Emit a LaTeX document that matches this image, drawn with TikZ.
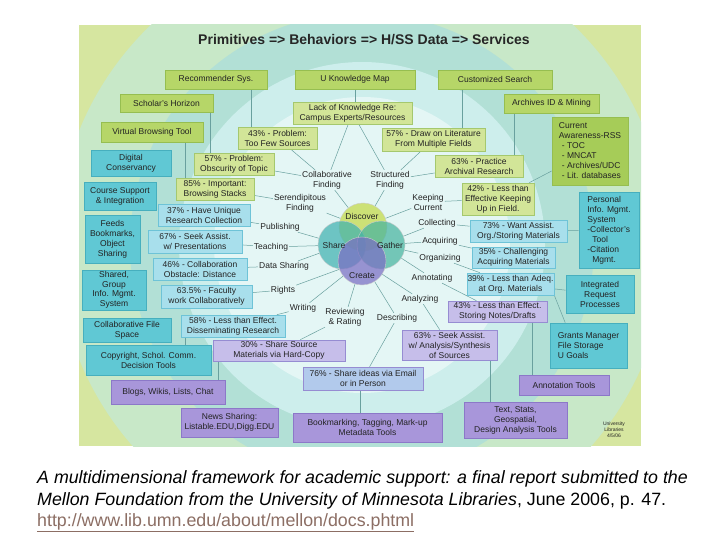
\documentclass[tikz,border=0pt]{standalone}
\usepackage{fontspec}
\setmainfont{Liberation Sans}
\usetikzlibrary{calc}
\definecolor{bgyel}{RGB}{214,230,160}
\definecolor{ringA}{RGB}{200,232,200}
\definecolor{ringB}{RGB}{178,224,214}
\definecolor{ringC}{RGB}{205,238,236}
\definecolor{ringD}{RGB}{228,246,245}
\definecolor{gsF}{RGB}{182,214,104}
\definecolor{gsD}{RGB}{150,190,80}
\definecolor{gpF}{RGB}{210,229,152}
\definecolor{gpD}{RGB}{165,200,110}
\definecolor{curF}{RGB}{166,204,88}
\definecolor{csF}{RGB}{96,200,212}
\definecolor{csD}{RGB}{70,175,190}
\definecolor{cpF}{RGB}{168,223,236}
\definecolor{cpD}{RGB}{110,195,215}
\definecolor{psF}{RGB}{168,150,218}
\definecolor{psD}{RGB}{140,120,200}
\definecolor{ppF}{RGB}{198,190,234}
\definecolor{ppD}{RGB}{150,140,210}
\definecolor{blF}{RGB}{178,202,236}
\definecolor{txt}{RGB}{35,35,35}
\definecolor{connC}{RGB}{105,160,158}
\definecolor{discC}{RGB}{196,218,70}
\definecolor{shareC}{RGB}{64,178,176}
\definecolor{gathC}{RGB}{72,180,160}
\definecolor{creC}{RGB}{122,110,196}
\definecolor{urlC}{RGB}{140,110,100}
\pgfdeclarelayer{bg}
\pgfdeclarelayer{lines}
\pgfsetlayers{bg,lines,main}
\tikzset{
  bx/.style={draw, line width=0.6pt, inner sep=0.5pt, align=center,
    font=\fontsize{8.5}{10}\selectfont, text=txt},
  gs/.style={bx, fill=gsF, draw=gsD},
  gp/.style={bx, fill=gpF, draw=gpD},
  cs/.style={bx, fill=csF, draw=csD},
  cp/.style={bx, fill=cpF, draw=cpD},
  ps/.style={bx, fill=psF, draw=psD},
  pp/.style={bx, fill=ppF, draw=ppD},
  lbl/.style={align=center, inner sep=1pt, font=\fontsize{8.5}{10}\selectfont, text=txt},
  conn/.style={draw=connC, line width=0.5pt},
  venn/.style={circle, minimum size=48pt, inner sep=0pt, fill opacity=0.72,
    draw=white!60!gray, line width=0.4pt},
  wh/.style={minimum width=#1},
  ht/.style={minimum height=#1}
}
\begin{document}
\begin{tikzpicture}[x=1pt,y=-1pt]
\useasboundingbox (0,0) rectangle (720,540);
\begin{pgfonlayer}{bg}
  \fill[white] (0,0) rectangle (720,540);
  \fill[bgyel] (79,25) rectangle (641,446);
  \begin{scope}
    \clip (79,25) rectangle (641,446);
    \fill[ringA] (362,245) circle (305);
    \fill[ringB] (362,245) circle (232);
    \fill[ringC] (362,245) circle (183);
    \fill[ringD] (362,245) circle (148);
  \end{scope}
\end{pgfonlayer}

% title
\node[font=\fontsize{14}{16}\selectfont\bfseries, text=black!85] (title) at (364,40)
  {Primitives => Behaviors => H/SS Data => Services};

% green service boxes
\node[gs, wh=102pt, ht=19pt] (rec) at (216,79.5) {Recommender Sys.};
\node[gs, wh=120pt, ht=19pt] (ukm) at (355,79.5) {U Knowledge Map};
\node[gs, wh=114pt, ht=19pt] (cus) at (495,79.5) {Customized Search};
\node[gs, wh=93pt, ht=18pt] (sch) at (166.5,103) {Scholar's Horizon};
\node[gs, wh=95pt, ht=19pt] (arc) at (551.5,103.5) {Archives ID \& Mining};
\node[gs, wh=102pt, ht=20pt] (vbt) at (152,132) {Virtual Browsing Tool};
\node[bx, fill=curF, draw=gsD, wh=76pt, ht=68pt, align=left] (cur) at (590,151)
  {Current\\Awareness-RSS\\\hspace*{3pt}- TOC\\\hspace*{3pt}- MNCAT\\\hspace*{3pt}- Archives/UDC\\\hspace*{3pt}- Lit. databases};

% green percentage boxes
\node[gp, wh=119pt, ht=22pt] (lack) at (352.5,113) {Lack of Knowledge Re:\\Campus Experts/Resources};
\node[gp, wh=79pt, ht=22pt] (p43) at (277.5,138) {43\% - Problem:\\Too Few Sources};
\node[gp, wh=103pt, ht=23pt] (p57d) at (433.5,139.5) {57\% - Draw on Literature\\From Multiple Fields};
\node[gp, wh=80pt, ht=22pt] (p57o) at (234,164) {57\% - Problem:\\Obscurity of Topic};
\node[gp, wh=88pt, ht=22pt] (p63) at (479,166) {63\% - Practice\\Archival Research};
\node[gp, wh=78pt, ht=22pt] (p85) at (215,189) {85\% - Important:\\Browsing Stacks};
\node[gp, wh=72pt, ht=32pt] (p42) at (498,199) {42\% - Less than\\Effective Keeping\\Up in Field.};

% cyan service boxes
\node[cs, wh=80pt, ht=26pt] (dig) at (131,163) {Digital\\Conservancy};
\node[cs, wh=72pt, ht=28pt] (cou) at (120,196) {Course Support\\\& Integration};
\node[cs, wh=55pt, ht=48pt] (fee) at (112.5,239) {Feeds\\Bookmarks,\\Object\\Sharing};
\node[cs, wh=64pt, ht=40pt, font=\fontsize{8.5}{9.5}\selectfont] (sha) at (114,290) {Shared,\\Group\\Info. Mgmt.\\System};
\node[cs, wh=88pt, ht=24pt] (cfs) at (127,330) {Collaborative File\\Space};
\node[cs, wh=125pt, ht=30pt] (cop) at (148.5,360) {Copyright, Schol. Comm.\\Decision Tools};
\node[cs, wh=60pt, ht=76pt, align=left] (pim) at (609,230)
  {Personal\\Info. Mgmt.\\System\\-Collector's\\\hspace*{5pt}Tool\\-Citation\\\hspace*{5pt}Mgmt.};
\node[cs, wh=68pt, ht=38pt] (irp) at (600,294) {Integrated\\Request\\Processes};
\node[cs, wh=77pt, ht=45pt, align=left] (gra) at (588.5,345.5) {Grants Manager\\File Storage\\U Goals};

% cyan percentage boxes
\node[cp, wh=92pt, ht=22pt] (p37) at (204,215) {37\% - Have Unique\\Research Collection};
\node[cp, wh=94pt, ht=23pt] (p67) at (195,241.5) {67\% - Seek Assist.\\w/ Presentations};
\node[cp, wh=94pt, ht=22pt] (p46) at (200,269) {46\% - Collaboration\\Obstacle: Distance};
\node[cp, wh=91pt, ht=23pt] (p635) at (206.5,296.5) {63.5\% - Faculty\\work Collaboratively};
\node[cp, wh=104pt, ht=22pt] (p58) at (233,326) {58\% - Less than Effect.\\Disseminating Research};
\node[cp, wh=97pt, ht=22pt] (p73) at (518.5,231) {73\% - Want Assist.\\Org./Storing Materials};
\node[cp, wh=83pt, ht=21pt] (p35) at (513.5,257.5) {35\% - Challenging\\Acquiring Materials};
\node[cp, wh=87pt, ht=22pt] (p39) at (510.5,284) {39\% - Less than Adeq.\\at Org. Materials};

% purple percentage boxes
\node[pp, wh=132pt, ht=21pt] (p30) at (279,350.5) {30\% - Share Source\\Materials via Hard-Copy};
\node[pp, wh=95pt, ht=30pt] (p63s) at (449.5,345) {63\% - Seek Assist.\\w/ Analysis/Synthesis\\of Sources};
\node[pp, wh=99pt, ht=21pt] (p43s) at (497.5,311.5) {43\% - Less than Effect.\\Storing Notes/Drafts};
\node[bx, fill=blF, draw=ppD, wh=120pt, ht=23pt] (p76) at (363,378.5) {76\% - Share ideas via Email\\or in Person};

% purple service boxes
\node[ps, wh=114pt, ht=24pt] (blo) at (168,392) {Blogs, Wikis, Lists, Chat};
\node[ps, wh=97pt, ht=29pt] (new) at (229.5,422.5) {News Sharing:\\Listable.EDU,Digg.EDU};
\node[ps, wh=149pt, ht=29pt] (boo) at (367.5,427.5) {Bookmarking, Tagging, Mark-up\\Metadata Tools};
\node[ps, wh=90pt, ht=20pt] (ann) at (564,385) {Annotation Tools};
\node[ps, wh=103pt, ht=36pt] (tex) at (515.5,420) {Text, Stats,\\Geospatial,\\Design Analysis Tools};

% behavior labels
\node[lbl] (cf) at (327,180) {Collaborative\\Finding};
\node[lbl] (sf) at (390,180) {Structured\\Finding};
\node[lbl] (ser) at (300,203) {Serendipitous\\Finding};
\node[lbl] (kc) at (428,202) {Keeping\\Current};
\node[lbl] (pub) at (280,227) {Publishing};
\node[lbl] (col) at (437,223) {Collecting};
\node[lbl] (tea) at (271,247) {Teaching};
\node[lbl] (acq) at (440,241) {Acquiring};
\node[lbl] (ds) at (284,266) {Data Sharing};
\node[lbl] (org) at (440,258) {Organizing};
\node[lbl] (rig) at (283,290) {Rights};
\node[lbl] (annot) at (432,278) {Annotating};
\node[lbl] (anal) at (420,299) {Analyzing};
\node[lbl] (wri) at (303,308) {Writing};
\node[lbl] (rev) at (345,317) {Reviewing\\\& Rating};
\node[lbl] (desc) at (397,318) {Describing};

% Venn
\node[venn, fill=discC] (disc) at (363,227) {};
\node[venn, fill=shareC] (share) at (342,245) {};
\node[venn, fill=gathC] (gath) at (381,245) {};
\node[venn, fill=creC] (cre) at (362,261) {};
\node[lbl] (discl) at (362,216) {Discover};
\node[lbl] (sharel) at (334,245) {Share};
\node[lbl] (gathl) at (390,245) {Gather};
\node[lbl] (crel) at (362,276) {Create};

% small credit
\node[align=center, font=\fontsize{5}{6}\selectfont, text=txt] (ulib) at (614,430)
  {University\\Libraries\\4/5/06};

% caption
\node[anchor=base west, inner sep=0pt, font=\fontsize{17.8}{22}\selectfont\itshape] (cap1) at (37,483)
  {A multidimensional framework for academic support: a final report submitted to the};
\node[anchor=base west, inner sep=0pt, font=\fontsize{17.8}{22}\selectfont] (cap2) at (37,505)
  {\textit{Mellon Foundation from the University of Minnesota Libraries}, June 2006, p. 47.};
\node[anchor=base west, inner sep=0pt, font=\fontsize{17.8}{22}\selectfont, text=urlC] (cap3) at (37,526)
  {\underline{http://www.lib.umn.edu/about/mellon/docs.phtml}};

\begin{pgfonlayer}{lines}
  % vertical links
  \draw[conn] (rec.south -| 251,0) -- (p43.north -| 251,0);
  \draw[conn] (sch.south -| 210,0) -- (p57o.north -| 210,0);
  \draw[conn] (vbt.south -| 185,0) -- (p85.north -| 185,0);
  \draw[conn] (ukm.south -| 355,0) -- (lack.north -| 355,0);
  \draw[conn] (cus.south -| 462,0) -- (p57d.north -| 462,0);
  \draw[conn] (arc.south -| 514,0) -- (p63.north -| 514,0);
  \draw[conn] (p30.south -| 218,0) -- (blo.north -| 218,0);
  \draw[conn] (p58.south -| 185,0) -- (cop.north -| 185,0);
  \draw[conn] (p43s.south -| 532,0) -- (ann.north -| 532,0);
  \draw[conn] (p63s.south -| 490,0) -- (tex.north -| 490,0);
  \draw[conn] (p76.south -| 360,0) -- (boo.north -| 360,0);
  % box to box
  \draw[conn] (cur) -- (p42);
  \draw[conn] (p73) -- (pim);
  \draw[conn] (p39) -- (irp);
  \draw[conn] (p39.south east) -- ($(gra.north west)!0.2!(gra.north east)$);
  % box to behavior
  \draw[conn] (lack) -- (cf);
  \draw[conn] (lack) -- (sf);
  \draw[conn] (p43) -- (cf);
  \draw[conn] (p57o) -- (cf);
  \draw[conn] (p85) -- (ser);
  \draw[conn] (p57d) -- (sf);
  \draw[conn] (p63) -- (sf);
  \draw[conn] (p42) -- (kc);
  \draw[conn] (p73) -- (col);
  \draw[conn] (p35) -- (acq);
  \draw[conn] (p39) -- (org);
  \draw[conn] (p43s) -- (annot);
  \draw[conn] (p63s) -- (anal);
  \draw[conn] (p76) -- (desc);
  \draw[conn] (p30) -- (rev);
  \draw[conn] (p58) -- (wri);
  \draw[conn] (p635) -- (rig);
  \draw[conn] (p46) -- (ds);
  \draw[conn] (p67) -- (tea);
  \draw[conn] (p37) -- (pub);
  % behavior to Venn
  \foreach \a in {cf,sf,ser,kc} \draw[conn] (\a) -- (disc);
  \foreach \a in {pub,tea,ds} \draw[conn] (\a) -- (share);
  \foreach \a in {rig,wri,rev,desc,anal} \draw[conn] (\a) -- (cre);
  \foreach \a in {annot,org,acq,col} \draw[conn] (\a) -- (gath);
\end{pgfonlayer}
\end{tikzpicture}
\end{document}
